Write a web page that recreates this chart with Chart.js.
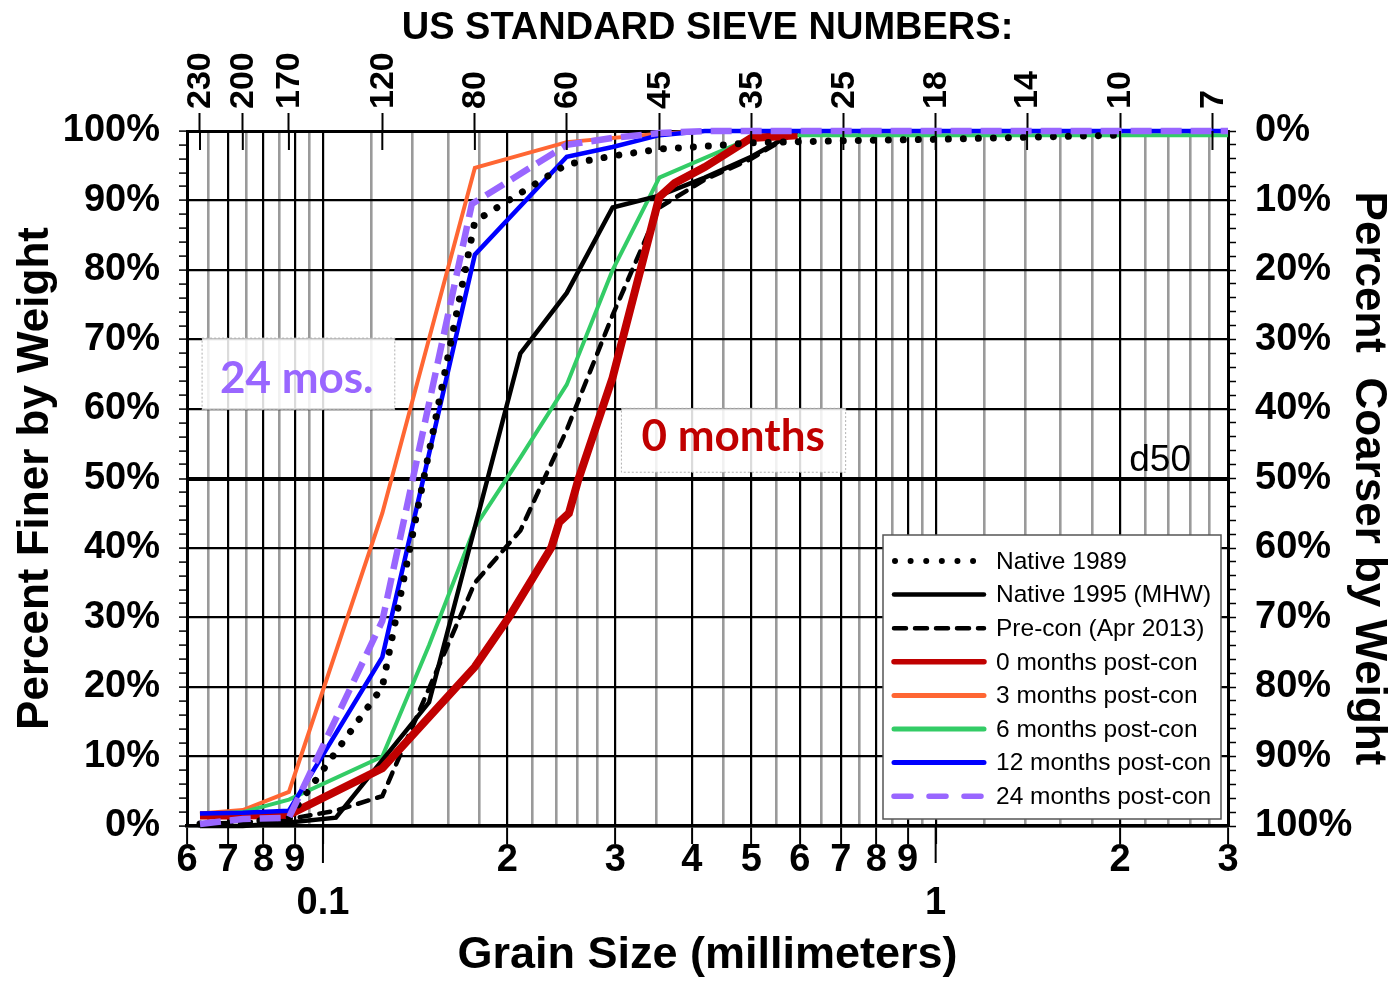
<!DOCTYPE html>
<html>
<head>
    <meta charset="utf-8">
    <title>Grain Size Distribution</title>
    <script src="https://cdn.jsdelivr.net/npm/chart.js@4.4.0/dist/chart.umd.min.js"></script>
    <style>
        html, body {
            margin: 0;
            padding: 0;
            background: #fff;
        }
        canvas {
            display: block;
        }
    </style>
</head>
<body>
<canvas id="grain_chart" width="1391" height="982"></canvas>

<script>
// grain size (mm) and percent finer by weight
const native1989Size = [0.063, 0.074, 0.088, 0.125, 0.177, 0.25, 0.297, 0.354, 0.42, 0.5, 0.707, 1.0, 1.41, 2.0];
const native1989Pct  = [0.3, 0.5, 1.2, 20.0, 87.0, 95.2, 96.4, 97.4, 97.8, 98.3, 98.6, 98.8, 99.1, 99.4];

const native1995Size = [0.063, 0.074, 0.088, 0.105, 0.149, 0.21, 0.25, 0.297, 0.354, 0.42, 0.5, 0.595];
const native1995Pct  = [0, 0, 0.5, 1.2, 17.8, 68.0, 76.7, 89.0, 90.7, 93.3, 96.3, 100];

const preconSize = [0.063, 0.074, 0.088, 0.105, 0.125, 0.177, 0.21, 0.25, 0.297, 0.354, 0.42, 0.5, 0.595];
const preconPct  = [0.3, 0.5, 1.0, 2.2, 4.3, 35.0, 42.5, 57.0, 73.5, 89.0, 93.0, 96.0, 100];

const month0Size = [0.063, 0.074, 0.088, 0.125, 0.177, 0.201, 0.236, 0.243, 0.252, 0.261, 0.297, 0.354, 0.375, 0.42, 0.5, 0.595];
const month0Pct  = [1.5, 1.5, 1.6, 8.3, 22.9, 30.0, 40.1, 43.7, 45.0, 49.8, 64.5, 90.5, 92.5, 94.8, 99.0, 99.4];

const month3Size = [0.063, 0.074, 0.088, 0.125, 0.177, 0.25, 0.354, 0.42, 3.0];
const month3Pct  = [1.8, 2.3, 4.9, 45.0, 94.7, 98.4, 99.6, 100, 100];

const month6Size = [0.063, 0.074, 0.088, 0.125, 0.149, 0.177, 0.21, 0.25, 0.297, 0.354, 0.5, 0.595, 3.0];
const month6Pct  = [1.7, 2.0, 3.8, 10.0, 26.0, 43.0, 53.0, 63.5, 80.0, 93.3, 99.0, 99.4, 99.4];

const month12Size = [0.063, 0.074, 0.088, 0.125, 0.177, 0.25, 0.297, 0.354, 0.42, 3.0];
const month12Pct  = [1.8, 1.9, 2.2, 24.3, 82.2, 96.3, 97.7, 99.4, 100, 100];

const month24Size = [0.063, 0.074, 0.088, 0.125, 0.175, 0.25, 0.297, 0.354, 0.42, 3.0];
const month24Pct  = [0.3, 1.0, 1.2, 29.5, 89.5, 98.0, 99.0, 99.7, 100, 100];

const seriesNames = ['Native 1989', 'Native 1995 (MHW)', 'Pre-con (Apr 2013)', '0 months post-con',
    '3 months post-con', '6 months post-con', '12 months post-con', '24 months post-con'];

// axis ticks
const majorSizes = [0.06, 0.07, 0.08, 0.09, 0.1, 0.2, 0.3, 0.4, 0.5, 0.6, 0.7, 0.8, 0.9, 1, 2, 3];
const minorSizes = [0.065, 0.075, 0.085, 0.095, 0.12, 0.14, 0.16, 0.18, 0.22, 0.24, 0.26, 0.28,
    0.35, 0.45, 0.55, 0.65, 0.75, 0.85, 0.95, 1.2, 1.4, 1.6, 1.8, 2.2, 2.4, 2.6, 2.8];
const sieveNumbers = [230, 200, 170, 120, 80, 60, 45, 35, 25, 18, 14, 10, 7];
const sieveSizes   = [0.063, 0.074, 0.088, 0.125, 0.177, 0.25, 0.354, 0.5, 0.707, 1.0, 1.41, 2.0, 2.83];
const percentTicks = [0, 10, 20, 30, 40, 50, 60, 70, 80, 90, 100];
const percentMinorStep = 2;

const FONT = "'Liberation Sans', Arial, sans-serif";
const LABEL_FONT = "Lato, 'Open Sans', sans-serif";

function pairs(xs, ys) {
    return xs.map((x, i) => ({ x: x, y: ys[i] }));
}
function isMajor(v) {
    return majorSizes.some(m => Math.abs(m - v) < 1e-9);
}
function percentTickList() {
    const list = [];
    for (let v = 0; v <= 100; v += percentMinorStep) list.push({ value: v });
    return list;
}
function isPercentMajor(v) {
    return percentTicks.includes(v);
}

const decorations = {
    id: 'decorations',
    beforeDraw(chart) {
        const ctx = chart.ctx;
        ctx.save();
        ctx.fillStyle = '#fff';
        ctx.fillRect(0, 0, chart.width, chart.height);
        ctx.restore();
    },
    beforeDatasetsDraw(chart) {
        const ctx = chart.ctx;
        const xs = chart.scales.x, ys = chart.scales.y;
        const boxes = [
            { x1: 0.0635, x2: 0.131, y1: 70.2, y2: 59.9 },
            { x1: 0.307, x2: 0.713, y1: 60.1, y2: 50.9 }
        ];
        ctx.save();
        boxes.forEach(b => {
            const l = xs.getPixelForValue(b.x1), r = xs.getPixelForValue(b.x2);
            const t = ys.getPixelForValue(b.y1), btm = ys.getPixelForValue(b.y2);
            ctx.fillStyle = 'rgba(255,255,255,0.86)';
            ctx.fillRect(l, t, r - l, btm - t);
            ctx.setLineDash([2, 2]);
            ctx.strokeStyle = '#b0b0b0';
            ctx.lineWidth = 1;
            ctx.strokeRect(l, t, r - l, btm - t);
        });
        ctx.restore();
    },
    afterDraw(chart) {
        const ctx = chart.ctx;
        const area = chart.chartArea;
        const xs = chart.scales.x, top = chart.scales.x2, ys = chart.scales.y;
        ctx.save();

        // sieve ticks reaching into the plot and their numbers
        ctx.strokeStyle = '#000';
        ctx.lineWidth = 2;
        ctx.fillStyle = '#000';
        ctx.font = 'bold 34px ' + FONT;
        ctx.textAlign = 'left';
        ctx.textBaseline = 'middle';
        sieveSizes.forEach((s, i) => {
            const px = top.getPixelForValue(s);
            ctx.beginPath();
            ctx.moveTo(px, area.top);
            ctx.lineTo(px, area.top + 19);
            ctx.stroke();
            ctx.save();
            ctx.translate(px + 1, area.top - 22);
            ctx.rotate(-Math.PI / 2);
            ctx.fillText(String(sieveNumbers[i]), 0, 0);
            ctx.restore();
        });

        // longer ticks at the decades
        [0.1, 1].forEach(v => {
            const px = xs.getPixelForValue(v);
            ctx.beginPath();
            ctx.moveTo(px, area.bottom);
            ctx.lineTo(px, area.bottom + 37);
            ctx.stroke();
        });

        // annotations
        ctx.font = 'bold 44px ' + LABEL_FONT;
        ctx.textBaseline = 'alphabetic';
        ctx.fillStyle = '#9966ff';
        ctx.fillText('24 mos.', xs.getPixelForValue(0.0679), ys.getPixelForValue(62.3));
        ctx.fillStyle = '#c00000';
        ctx.fillText('0 months', xs.getPixelForValue(0.331), ys.getPixelForValue(54.0));
        ctx.fillStyle = '#000';
        ctx.font = '37px ' + FONT;
        ctx.fillText('d50', xs.getPixelForValue(2.07), ys.getPixelForValue(50) - 8);

        // legend
        const w = 338, h = 284;
        const x0 = area.right - 7 - w, y0 = area.bottom - 7 - h;
        ctx.fillStyle = '#fff';
        ctx.fillRect(x0, y0, w, h);
        ctx.setLineDash([]);
        ctx.strokeStyle = '#555';
        ctx.lineWidth = 1.5;
        ctx.strokeRect(x0, y0, w, h);
        ctx.font = '24.5px ' + FONT;
        ctx.textBaseline = 'middle';
        chart.data.datasets.forEach((ds, i) => {
            const yy = y0 + 26 + i * 33.6;
            ctx.beginPath();
            ctx.setLineDash(ds.legendDash || []);
            ctx.lineCap = ds.legendCap || 'round';
            ctx.strokeStyle = ds.borderColor;
            ctx.lineWidth = ds.legendWidth || 4;
            ctx.moveTo(x0 + (ds.legendStart || 11), yy);
            ctx.lineTo(x0 + 101, yy);
            ctx.stroke();
            ctx.setLineDash([]);
            ctx.fillStyle = '#000';
            ctx.fillText(ds.label, x0 + 113, yy + 1);
        });
        ctx.restore();
    }
};

const ctx = document.getElementById('grain_chart').getContext('2d');
new Chart(ctx, {
    type: 'line',
    data: {
        datasets: [
            {
                label: seriesNames[0], data: pairs(native1989Size, native1989Pct),
                borderColor: '#000', borderWidth: 7, borderDash: [0.01, 15], borderCapStyle: 'round',
                legendDash: [0.01, 15.6], legendWidth: 6, legendStart: 12, order: 1
            },
            {
                label: seriesNames[1], data: pairs(native1995Size, native1995Pct),
                borderColor: '#000', borderWidth: 4.5, legendWidth: 4.5, order: 4
            },
            {
                label: seriesNames[2], data: pairs(preconSize, preconPct),
                borderColor: '#000', borderWidth: 4.5, borderDash: [11, 9], borderCapStyle: 'round',
                legendDash: [12, 9], legendWidth: 4.5, order: 5
            },
            {
                label: seriesNames[3], data: pairs(month0Size, month0Pct),
                borderColor: '#c00000', borderWidth: 8, legendWidth: 5.5, order: 3
            },
            {
                label: seriesNames[4], data: pairs(month3Size, month3Pct),
                borderColor: '#ff6633', borderWidth: 4, legendWidth: 5, order: 7
            },
            {
                label: seriesNames[5], data: pairs(month6Size, month6Pct),
                borderColor: '#33cc66', borderWidth: 4, legendWidth: 5, order: 6
            },
            {
                label: seriesNames[6], data: pairs(month12Size, month12Pct),
                borderColor: '#0000ff', borderWidth: 4.5, legendWidth: 5, order: 2
            },
            {
                label: seriesNames[7], data: pairs(month24Size, month24Pct),
                borderColor: '#9966ff', borderWidth: 6.5, borderDash: [21, 9], borderCapStyle: 'butt',
                legendDash: [17, 18], legendWidth: 5.5, legendStart: 11, order: 0
            }
        ]
    },
    options: {
        responsive: false,
        animation: false,
        devicePixelRatio: 1,
        events: [],
        layout: { padding: 0 },
        elements: {
            point: { radius: 0, hoverRadius: 0 },
            line: { tension: 0, fill: false, borderJoinStyle: 'miter' }
        },
        datasets: { line: { clip: false } },
        scales: {
            x: {
                type: 'logarithmic',
                position: 'bottom',
                min: 0.06,
                max: 3,
                afterBuildTicks: axis => {
                    axis.ticks = majorSizes.concat(minorSizes).sort((a, b) => a - b).map(v => ({ value: v }));
                },
                afterFit: axis => { axis.height = 156; },
                grid: {
                    color: c => isMajor(c.tick.value) ? '#000' : '#9a9a9a',
                    lineWidth: c => isMajor(c.tick.value) ? 2.2 : 2.6,
                    tickColor: c => isMajor(c.tick.value) ? '#000' : 'rgba(0,0,0,0)',
                    tickLength: 18,
                    tickWidth: 2
                },
                border: { color: '#000', width: 3.5 },
                ticks: {
                    autoSkip: false,
                    minRotation: 0,
                    maxRotation: 0,
                    padding: -5,
                    color: '#000',
                    font: { family: FONT, size: 38, weight: 'bold', lineHeight: 1.13 },
                    callback: v => {
                        if (Math.abs(v - 0.1) < 1e-9) return ['', '0.1'];
                        if (Math.abs(v - 1) < 1e-9) return ['', '1'];
                        if (!isMajor(v)) return '';
                        const mag = Math.pow(10, Math.floor(Math.log10(v) + 1e-9));
                        return String(Math.round(v / mag));
                    }
                },
                title: {
                    display: true,
                    text: 'Grain Size (millimeters)',
                    color: '#000',
                    font: { family: FONT, size: 45, weight: 'bold', lineHeight: 1 },
                    padding: { top: 0, bottom: 4 }
                }
            },
            x2: {
                type: 'logarithmic',
                position: 'top',
                min: 0.06,
                max: 3,
                afterBuildTicks: axis => {
                    axis.ticks = sieveSizes.map(v => ({ value: v }));
                },
                afterFit: axis => { axis.height = 131; },
                grid: { drawOnChartArea: false, color: '#000', tickLength: 18, tickWidth: 2 },
                border: { color: '#000', width: 3 },
                ticks: { display: false, autoSkip: false },
                title: {
                    display: true,
                    text: 'US STANDARD SIEVE NUMBERS:',
                    color: '#000',
                    font: { family: FONT, size: 38, weight: 'bold', lineHeight: 1 },
                    padding: { top: 10, bottom: 0 }
                }
            },
            y: {
                position: 'left',
                min: 0,
                max: 100,
                afterBuildTicks: axis => { axis.ticks = percentTickList(); },
                afterFit: axis => { axis.width = 187; },
                grid: {
                    color: c => isPercentMajor(c.tick.value) ? '#000' : 'rgba(0,0,0,0)',
                    lineWidth: c => c.tick.value === 50 ? 4 : 2.2,
                    tickColor: '#000',
                    tickLength: 8,
                    tickWidth: 1.5
                },
                border: { color: '#000', width: 3 },
                ticks: {
                    autoSkip: false,
                    padding: 19,
                    color: '#000',
                    font: { family: FONT, size: 38, weight: 'bold' },
                    callback: v => isPercentMajor(v) ? v + '%' : ''
                },
                title: {
                    display: true,
                    text: 'Percent Finer by Weight',
                    color: '#000',
                    font: { family: FONT, size: 44, weight: 'bold', lineHeight: 1 },
                    padding: { top: 14, bottom: 0 }
                }
            },
            y2: {
                position: 'right',
                min: 0,
                max: 100,
                afterBuildTicks: axis => { axis.ticks = percentTickList(); },
                afterFit: axis => { axis.width = 163; },
                grid: { drawOnChartArea: false, color: '#000', tickLength: 8, tickWidth: 1.5 },
                border: { color: '#000', width: 3 },
                ticks: {
                    autoSkip: false,
                    padding: 19,
                    color: '#000',
                    font: { family: FONT, size: 38, weight: 'bold' },
                    callback: v => isPercentMajor(v) ? (100 - v) + '%' : ''
                },
                title: {
                    display: true,
                    text: 'Percent  Coarser by Weight',
                    color: '#000',
                    font: { family: FONT, size: 44, weight: 'bold', lineHeight: 1 },
                    padding: { top: 1, bottom: 0 }
                }
            }
        },
        plugins: {
            legend: { display: false },
            tooltip: { enabled: false }
        }
    },
    plugins: [decorations]
});
</script>
</body>
</html>
